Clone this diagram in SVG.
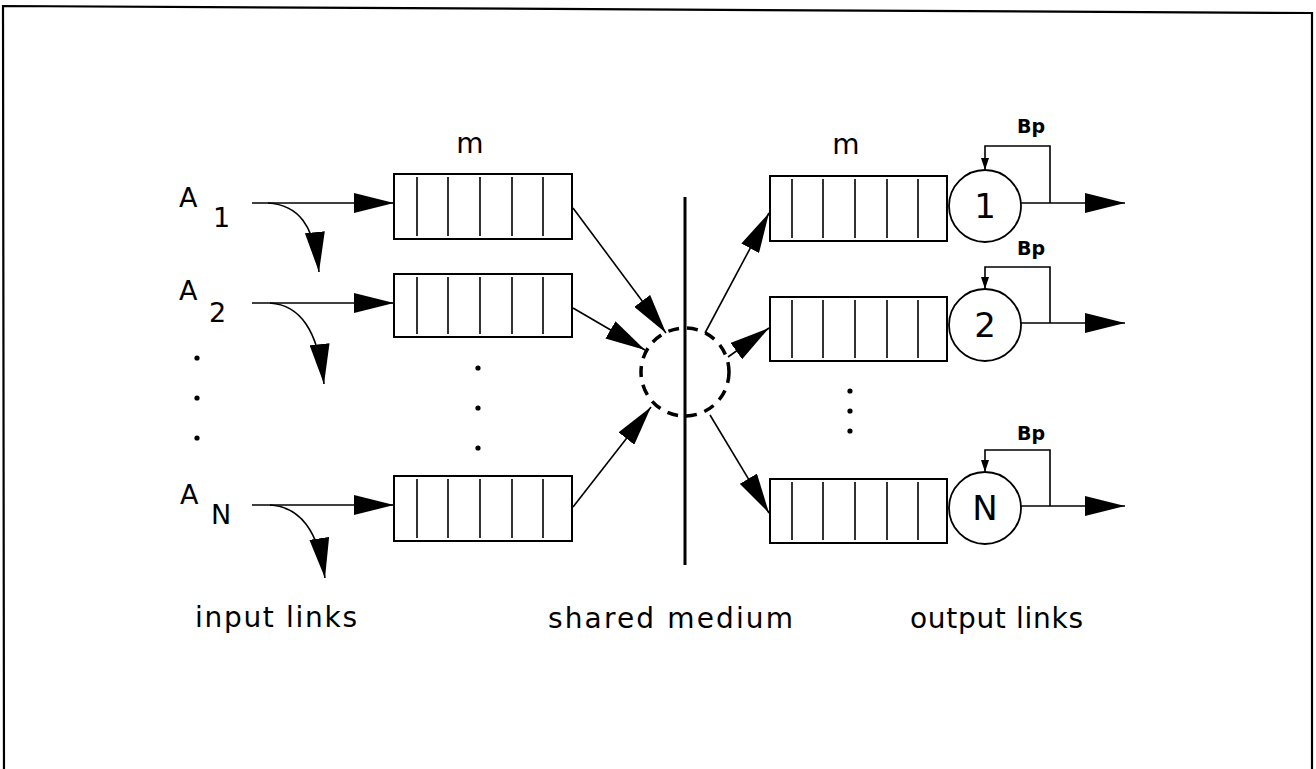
<svg xmlns="http://www.w3.org/2000/svg" width="1316" height="769" viewBox="0 0 1316 769">
<style>
text{font-family:"DejaVu Sans","Liberation Sans",sans-serif;fill:#000}
.lbl{font-size:28px}
.sub{font-size:27px}
.num{font-size:34px;text-anchor:middle}
.bp{font-size:19px;font-weight:bold;text-anchor:middle}
.box{fill:#fff;stroke:#000;stroke-width:2}
.div{stroke:#000;stroke-width:1.6}
.ln{fill:none;stroke:#000;stroke-width:1.6}
.big{marker-end:url(#ah)}
.sm{marker-end:url(#sa)}
.srv{fill:#fff;stroke:#000;stroke-width:1.8}
</style>
<defs>
<marker id="ah" markerUnits="userSpaceOnUse" viewBox="0 0 40 20" refX="40" refY="10" markerWidth="40" markerHeight="20" orient="auto"><path d="M0,0 L40,10 L0,20 z" fill="#000"/></marker>
<marker id="sa" markerUnits="userSpaceOnUse" viewBox="0 0 12 8" refX="12" refY="4" markerWidth="12" markerHeight="8" orient="auto"><path d="M0,0 L12,4 L0,8 z" fill="#000"/></marker>
</defs>
<rect width="1316" height="769" fill="#fff"/>
<path d="M4,780 L3,6 L1312,13 L1312,780" fill="none" stroke="#000" stroke-width="2.2"/>

<g id="inputs">
<text class="sub" x="179" y="207">A</text><text class="sub" x="213" y="227">1</text>
<text class="sub" x="179" y="300">A</text><text class="sub" x="209" y="322">2</text>
<text class="sub" x="180" y="504">A</text><text class="sub" x="211" y="524">N</text>
<circle cx="197" cy="358" r="2.6"/><circle cx="197" cy="398" r="2.6"/><circle cx="197" cy="438" r="2.6"/>
</g>

<g id="inqueue1">
<rect class="box" x="394" y="174" width="178" height="65"/>
<path class="div" d="M417,177V236M448,177V236M480,177V236M512,177V236M543,177V236"/>
</g>
<g id="inqueue2">
<rect class="box" x="394" y="274" width="178" height="63"/>
<path class="div" d="M417,277V334M448,277V334M480,277V334M512,277V334M543,277V334"/>
</g>
<g id="inqueueN">
<rect class="box" x="394" y="476" width="178" height="65"/>
<path class="div" d="M417,479V538M448,479V538M480,479V538M512,479V538M543,479V538"/>
</g>
<text class="lbl" x="470" y="153" text-anchor="middle">m</text>
<g id="indots"><circle cx="478" cy="368" r="2.6"/><circle cx="478" cy="408" r="2.6"/><circle cx="478" cy="448" r="2.6"/></g>

<g id="medium">
<line x1="685" y1="197" x2="685" y2="565" stroke="#000" stroke-width="3"/>
<circle cx="685" cy="372" r="44" fill="none" stroke="#000" stroke-width="3.5" stroke-dasharray="11 8"/>
</g>

<g id="outqueue1">
<rect class="box" x="770" y="176" width="177" height="65"/>
<path class="div" d="M792,179V238M823,179V238M855,179V238M887,179V238M918,179V238"/>
</g>
<g id="outqueue2">
<rect class="box" x="770" y="297" width="177" height="64"/>
<path class="div" d="M792,300V358M823,300V358M855,300V358M887,300V358M918,300V358"/>
</g>
<g id="outqueueN">
<rect class="box" x="770" y="479" width="177" height="64"/>
<path class="div" d="M792,482V540M823,482V540M855,482V540M887,482V540M918,482V540"/>
</g>
<text class="lbl" x="846" y="154" text-anchor="middle">m</text>
<g id="outdots"><circle cx="850" cy="391" r="2.6"/><circle cx="850" cy="411" r="2.6"/><circle cx="850" cy="431" r="2.6"/></g>

<g id="server1"><circle class="srv" cx="985" cy="206" r="36"/><text class="num" x="985" y="218">1</text></g>
<g id="server2"><circle class="srv" cx="985" cy="325" r="36"/><text class="num" x="985" y="337">2</text></g>
<g id="serverN"><circle class="srv" cx="985" cy="508" r="36"/><text class="num" x="985" y="520">N</text></g>
<text class="bp" x="1031" y="133">Bp</text>
<text class="bp" x="1031" y="255">Bp</text>
<text class="bp" x="1031" y="440">Bp</text>

<g id="connectors">
<line class="ln big" x1="252" y1="203" x2="394" y2="203"/>
<line class="ln big" x1="252" y1="303" x2="394" y2="303"/>
<line class="ln big" x1="252" y1="505" x2="394" y2="505"/>
<path class="ln big" d="M268,203 C298,205 314,224 319,272"/>
<path class="ln big" d="M270,303 C300,305 318,330 324,384"/>
<path class="ln big" d="M270,505 C300,507 318,530 325,578"/>
<line class="ln big" x1="573" y1="208" x2="666" y2="333"/>
<line class="ln big" x1="573" y1="308" x2="645" y2="350"/>
<line class="ln big" x1="573" y1="507" x2="651" y2="407"/>
<line class="ln big" x1="705" y1="333" x2="769" y2="213"/>
<line class="ln big" x1="728" y1="357" x2="769" y2="328"/>
<line class="ln big" x1="710" y1="415" x2="769" y2="513"/>
<line class="ln big" x1="1021" y1="203" x2="1125" y2="203"/>
<line class="ln big" x1="1021" y1="323" x2="1125" y2="323"/>
<line class="ln big" x1="1021" y1="506" x2="1125" y2="506"/>
<path class="ln sm" d="M1050,203 V146 H985 V170"/>
<path class="ln sm" d="M1050,323 V267 H985 V289"/>
<path class="ln sm" d="M1050,506 V450 H985 V472"/>
</g>

<text class="lbl" x="195" y="627" textLength="162" lengthAdjust="spacing">input links</text>
<text class="lbl" x="548" y="628" textLength="245" lengthAdjust="spacing">shared medium</text>
<text class="lbl" x="910" y="628" textLength="173" lengthAdjust="spacing">output links</text>
</svg>
